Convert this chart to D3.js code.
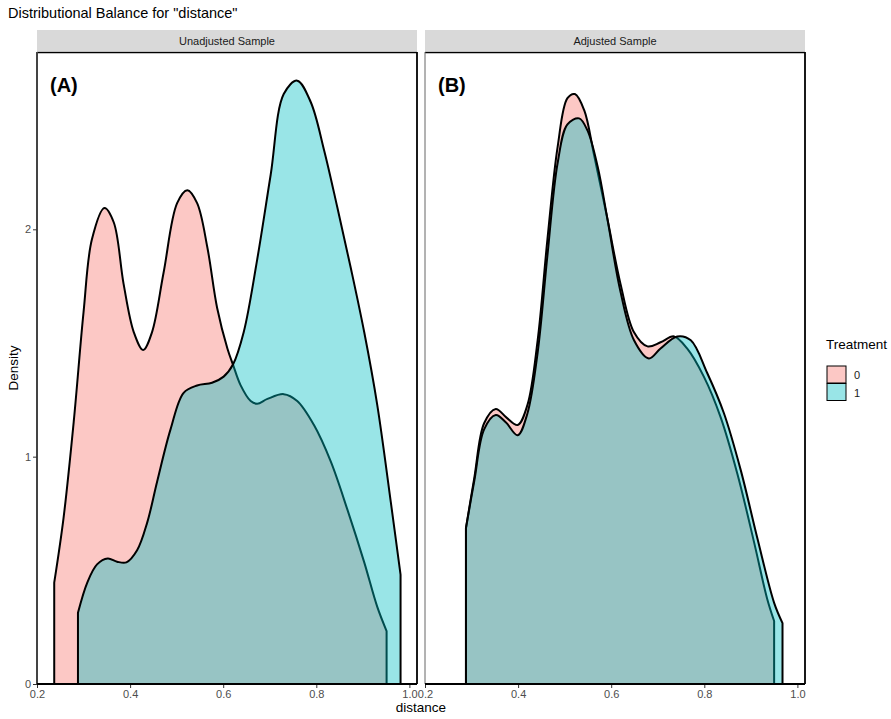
<!DOCTYPE html>
<html>
<head>
<meta charset="utf-8">
<script src="https://cdn.jsdelivr.net/npm/d3@7"></script>
<style>
  body { margin: 0; background: #fff; }
  text { font-family: "Liberation Sans", Arial, sans-serif; }
</style>
</head>
<body>
<div id="chart"></div>
<script>
// values
var panelNames = ["Unadjusted Sample", "Adjusted Sample"];
var panelTags = ["(A)", "(B)"];
var groups = ["0", "1"];
var xTicks = [0.2, 0.4, 0.6, 0.8, 1.0];
var yTicks = [0, 1, 2];

// Unadjusted, treatment 0
var unadj0X = [0.237, 0.257, 0.279, 0.300, 0.318, 0.345, 0.365, 0.386, 0.408, 0.428, 0.447, 0.472, 0.501, 0.523, 0.544, 0.566, 0.587, 0.609, 0.621, 0.637, 0.659, 0.673, 0.695, 0.730, 0.759, 0.795, 0.831, 0.867, 0.903, 0.931, 0.951];
var unadj0Y = [0.446, 0.73, 1.156, 1.636, 1.956, 2.094, 2.03, 1.76, 1.547, 1.469, 1.547, 1.81, 2.115, 2.172, 2.115, 1.92, 1.654, 1.476, 1.405, 1.316, 1.245, 1.233, 1.254, 1.275, 1.245, 1.139, 0.979, 0.766, 0.535, 0.339, 0.233];
// Unadjusted, treatment 1
var unadj1X = [0.288, 0.308, 0.329, 0.352, 0.372, 0.392, 0.415, 0.437, 0.458, 0.487, 0.515, 0.544, 0.576, 0.601, 0.621, 0.644, 0.673, 0.702, 0.730, 0.759, 0.788, 0.817, 0.845, 0.874, 0.903, 0.931, 0.960, 0.981];
var unadj1Y = [0.313, 0.446, 0.526, 0.552, 0.538, 0.535, 0.588, 0.712, 0.89, 1.121, 1.281, 1.313, 1.325, 1.352, 1.405, 1.547, 1.867, 2.24, 2.595, 2.654, 2.56, 2.346, 2.098, 1.831, 1.547, 1.227, 0.801, 0.481];
// Adjusted, treatment 0
var adj0X = [0.288, 0.306, 0.327, 0.352, 0.374, 0.399, 0.420, 0.442, 0.463, 0.485, 0.506, 0.522, 0.542, 0.563, 0.592, 0.620, 0.649, 0.678, 0.706, 0.735, 0.763, 0.799, 0.835, 0.871, 0.907, 0.935, 0.950];
var adj0Y = [0.686, 0.908, 1.147, 1.21, 1.174, 1.139, 1.227, 1.512, 1.956, 2.364, 2.577, 2.595, 2.524, 2.329, 2.044, 1.76, 1.547, 1.485, 1.503, 1.529, 1.476, 1.352, 1.174, 0.925, 0.623, 0.375, 0.277];
// Adjusted, treatment 1
var adj1X = [0.288, 0.306, 0.327, 0.352, 0.374, 0.399, 0.420, 0.442, 0.463, 0.485, 0.506, 0.531, 0.549, 0.571, 0.592, 0.620, 0.649, 0.681, 0.706, 0.742, 0.771, 0.806, 0.842, 0.878, 0.914, 0.950, 0.968];
var adj1Y = [0.686, 0.895, 1.12, 1.183, 1.15, 1.094, 1.19, 1.458, 1.885, 2.293, 2.462, 2.488, 2.435, 2.275, 2.044, 1.725, 1.512, 1.432, 1.476, 1.529, 1.512, 1.369, 1.192, 0.943, 0.641, 0.357, 0.268];

var fills = ["#F8766D", "#00BFC4"];

var width = 891, height = 719;
var svg = d3.select("#chart").append("svg")
    .attr("width", width)
    .attr("height", height);

var plotTop = 52, plotBottom = 684, panelW = 380;
var panelLeft = [37, 425];

var y = d3.scaleLinear().domain([0, 2.78]).range([plotBottom, plotTop]);

var series = [
    [[unadj0X, unadj0Y], [unadj1X, unadj1Y]],
    [[adj0X, adj0Y], [adj1X, adj1Y]]
];

// title
svg.append("text")
    .attr("x", 8).attr("y", 18)
    .style("font-size", "14.5px")
    .style("fill", "#000")
    .text('Distributional Balance for "distance"');

panelNames.forEach(function(name, p) {
    var left = panelLeft[p];
    var x = d3.scaleLinear().domain([0.2, 1.0]).range([left, left + panelW * 0.98]);

    // strip
    svg.append("rect")
        .attr("x", left).attr("y", 30)
        .attr("width", panelW).attr("height", 21)
        .attr("fill", "#D9D9D9");
    svg.append("text")
        .attr("x", left + panelW / 2).attr("y", 44.5)
        .attr("text-anchor", "middle")
        .style("font-size", "11px")
        .style("fill", "#1A1A1A")
        .text(name);

    var area = d3.area()
        .x(function(d) { return x(d[0]); })
        .y0(y(0))
        .y1(function(d) { return y(d[1]); })
        .curve(d3.curveCatmullRom.alpha(0.5));

    series[p].forEach(function(s, g) {
        var pts = s[0].map(function(v, i) { return [v, s[1][i]]; });
        svg.append("path")
            .datum(pts)
            .attr("d", area)
            .attr("fill", fills[g])
            .attr("fill-opacity", 0.4)
            .attr("stroke", "#000")
            .attr("stroke-width", 2)
            .attr("stroke-linejoin", "round");
    });

    // panel border
    svg.append("line")
        .attr("x1", left).attr("x2", left + panelW)
        .attr("y1", plotTop + 0.5).attr("y2", plotTop + 0.5)
        .attr("stroke", "#000").attr("stroke-width", 1.5);
    svg.append("line")
        .attr("x1", left + panelW).attr("x2", left + panelW)
        .attr("y1", plotTop).attr("y2", plotBottom)
        .attr("stroke", "#000").attr("stroke-width", 1.8);
    svg.append("line")
        .attr("x1", left).attr("x2", left)
        .attr("y1", plotTop).attr("y2", plotBottom)
        .attr("stroke", p == 0 ? "#444" : "#666")
        .attr("stroke-width", p == 0 ? 2 : 1);

    // x axis
    var xAxis = svg.append("g")
        .attr("transform", "translate(0," + plotBottom + ")")
        .call(d3.axisBottom(x).tickValues(xTicks).tickFormat(d3.format(".1f")).tickSize(4).tickPadding(2));
    xAxis.select(".domain").remove();
    xAxis.append("line")
        .attr("x1", left).attr("x2", left + panelW)
        .attr("stroke", "#000").attr("stroke-width", 2);
    xAxis.selectAll(".tick line").attr("stroke", "#333").attr("stroke-width", 1);
    xAxis.selectAll(".tick text")
        .style("font-size", "11px")
        .style("fill", "#4D4D4D")
        .style("font-family", "Liberation Sans, Arial, sans-serif");

    // tag
    svg.append("text")
        .attr("x", left + 13).attr("y", 92)
        .style("font-size", "20px")
        .style("font-weight", "bold")
        .style("fill", "#000")
        .text(panelTags[p]);
});

// y axis
var yAxis = svg.append("g")
    .attr("transform", "translate(" + panelLeft[0] + ",0)")
    .call(d3.axisLeft(y).tickValues(yTicks).tickFormat(d3.format("d")).tickSize(4).tickPadding(2));
yAxis.select(".domain").remove();
yAxis.selectAll(".tick line").attr("stroke", "#333");
yAxis.selectAll(".tick text")
    .style("font-size", "11px")
    .style("fill", "#4D4D4D")
    .style("font-family", "Liberation Sans, Arial, sans-serif");

// axis titles
svg.append("text")
    .attr("transform", "translate(18," + ((plotTop + plotBottom) / 2) + ") rotate(-90)")
    .attr("text-anchor", "middle")
    .style("font-size", "13.5px")
    .text("Density");
svg.append("text")
    .attr("x", (panelLeft[0] + panelLeft[1] + panelW) / 2).attr("y", 712)
    .attr("text-anchor", "middle")
    .style("font-size", "13.5px")
    .text("distance");

// legend
var legend = svg.append("g").attr("transform", "translate(826,334)");
legend.append("text")
    .attr("x", 0).attr("y", 15)
    .style("font-size", "13.5px")
    .text("Treatment");
groups.forEach(function(gname, i) {
    legend.append("rect")
        .attr("x", 1).attr("y", 32 + i * 17.5)
        .attr("width", 19).attr("height", 17)
        .attr("fill", fills[i]).attr("fill-opacity", 0.4)
        .attr("stroke", "#000").attr("stroke-width", 1);
    legend.append("text")
        .attr("x", 28).attr("y", 45 + i * 17.5)
        .style("font-size", "11px")
        .style("fill", "#1A1A1A")
        .text(gname);
});
</script>
</body>
</html>
